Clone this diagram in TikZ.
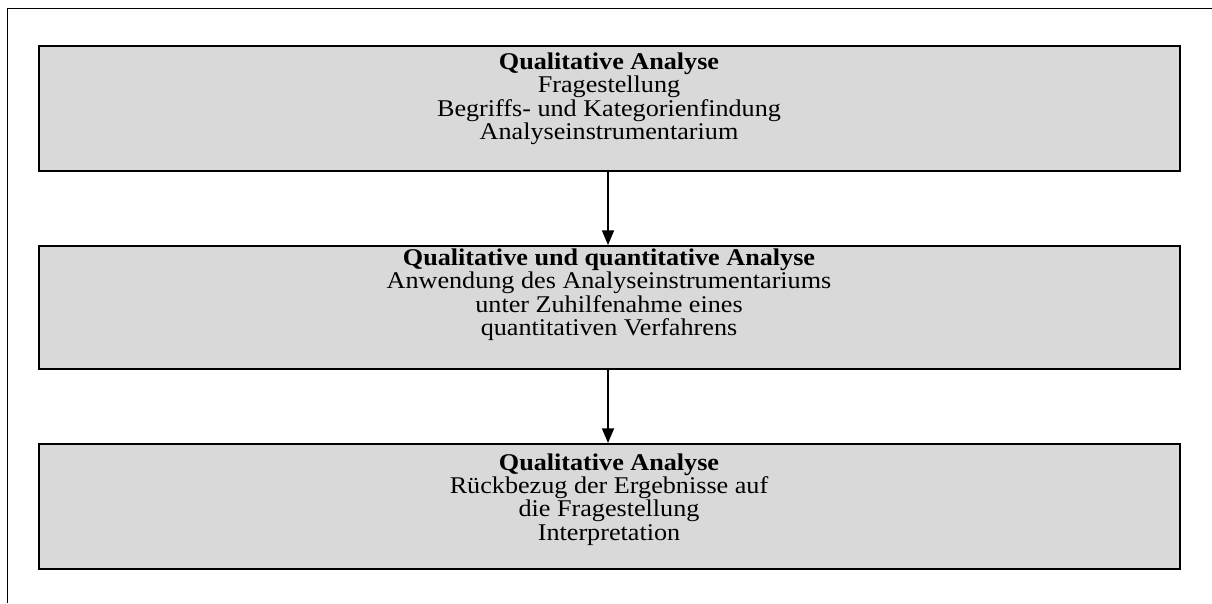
\documentclass[tikz,border=0pt]{standalone}
\usepackage{fontspec}
\setmainfont{Liberation Serif}[FakeStretch=1.09]
\usetikzlibrary{arrows.meta}
\definecolor{panelgray}{RGB}{217,217,217}
\newcommand{\stagehead}[1]{\textbf{#1}}
\newcommand{\stagefont}{\fontsize{18pt}{17.5pt}\selectfont
  \lineskiplimit=-30pt\relax\lineskip=0pt\relax}
\tikzset{
  panel/.style={draw=black, line width=1.5pt, fill=panelgray, rectangle,
    minimum width=856.1pt, inner sep=0pt},
  paneltext/.style={anchor=north, align=center, inner sep=0pt,
    font=\stagefont},
  flow/.style={line width=1.3pt, -{Triangle[width=9pt,length=11pt]}},
  frame/.style={line width=1.4pt}
}
\begin{document}
\begin{tikzpicture}[x=0.75pt,y=-0.75pt]
  \useasboundingbox (0,0) rectangle (1212,603);
  % open outer frame: top and left edges
  \coordinate (fTR) at (1212,8.5);
  \coordinate (fTL) at (7.5,8.5);
  \coordinate (fBL) at (7.5,603);
  \draw[frame] (fTR) -- (fTL) -- (fBL);

  % three stages
  \node[panel, minimum height=93.75pt] (s1) at (609.25,108.5) {};
  \node[panel, minimum height=92.25pt] (s2) at (609.25,307.5) {};
  \node[panel, minimum height=93.75pt] (s3) at (609.25,506.5) {};

  \node[paneltext] (t1) at (609,52.7) {\stagehead{Qualitative Analyse}\\
    Fragestellung\\ Begriffs- und Kategorienfindung\\ Analyseinstrumentarium};
  \node[paneltext] (t2) at (609,248.6) {\stagehead{Qualitative und quantitative Analyse}\\
    Anwendung des Analyseinstrumentariums\\ unter Zuhilfenahme eines\\
    quantitativen Verfahrens};
  \node[paneltext] (t3) at (609,453.4) {\stagehead{Qualitative Analyse}\\
    Rückbezug der Ergebnisse auf\\ die Fragestellung\\ Interpretation};

  % connectors
  \draw[flow] (s1.south -| 608,0) -- (s2.north -| 608,0);
  \draw[flow] (s2.south -| 608,0) -- (s3.north -| 608,0);
\end{tikzpicture}
\end{document}
